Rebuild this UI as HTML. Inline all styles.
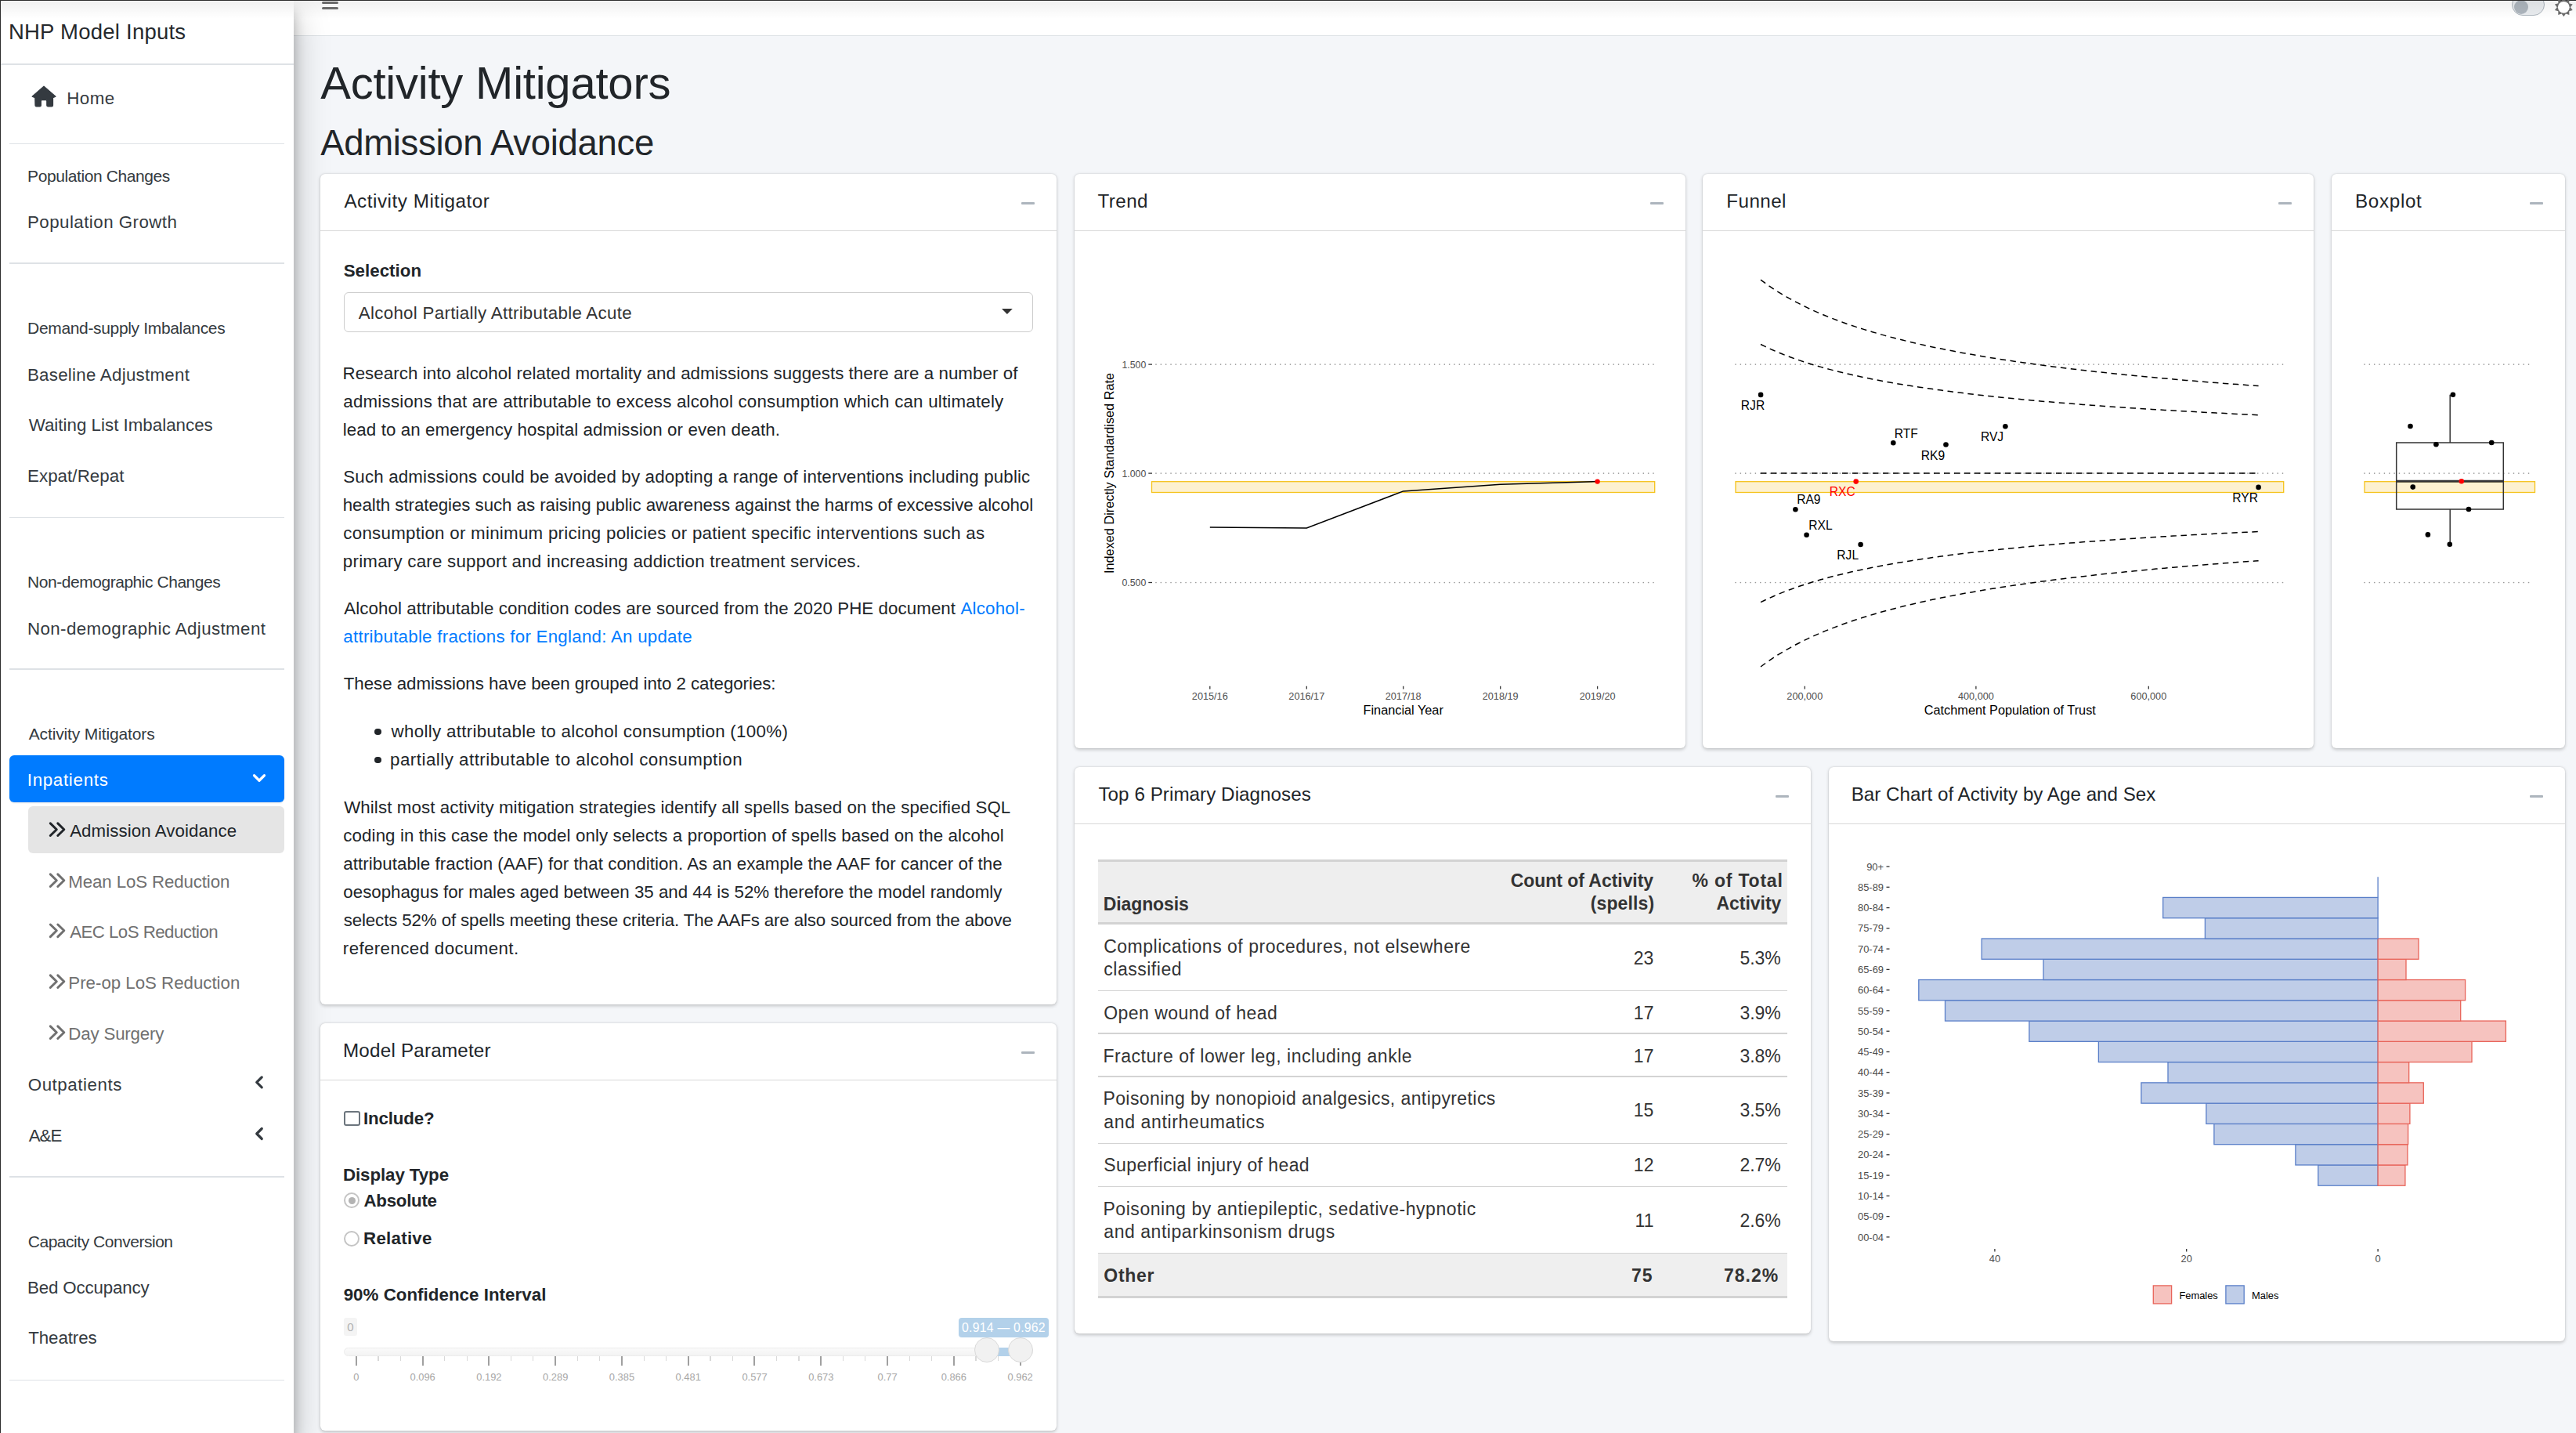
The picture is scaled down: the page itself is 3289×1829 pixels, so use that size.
<!DOCTYPE html>
<html><head><meta charset="utf-8"><title>NHP Model Inputs</title>
<style>
html,body{margin:0;padding:0;}
body{width:3289px;height:1829px;overflow:hidden;background:#f4f6f9;font-family:"Liberation Sans", Arial, sans-serif;position:relative;}
.a{position:absolute;}
.t{position:absolute;white-space:pre;}
svg.ov{position:absolute;left:0;top:0;overflow:visible;}
svg text{font-family:"Liberation Sans", Arial, sans-serif;}
</style></head><body>
<div class="a" style="left:375.00px;top:0.00px;width:2914.00px;height:45.00px;background:#fff;"></div>
<div class="a" style="left:375.00px;top:45.00px;width:2914.00px;height:1.00px;background:#dee2e6;"></div>
<div class="a" style="left:411.00px;top:2.00px;width:21.00px;height:3.00px;background:#6e6e6e;border-radius:1.5px;"></div>
<div class="a" style="left:411.00px;top:9.00px;width:21.00px;height:3.00px;background:#6e6e6e;border-radius:1.5px;"></div>
<div class="a" style="left:0.00px;top:0.00px;width:375.40px;height:1829.00px;background:#fff;box-shadow:0 21px 42px rgba(0,0,0,.25),0 15px 15px rgba(0,0,0,.22);"></div>
<div class="a" style="left:0.00px;top:81.00px;width:375.40px;height:1.50px;background:#dee2e6;"></div>
<div class="t" style="top:25px;left:10.94px;font-size:27.5px;line-height:31px;color:#25292d;letter-spacing:0.232px;">NHP Model Inputs</div>
<svg class="a" style="left:0;top:0" width="120" height="150"><path d="M56 110.1 L41.1 123.2 L44.8 124.6 L45 134.5 Q45 136 46.5 136 L51 136 Q52.3 136 52.3 134.5 L52.3 129 Q52.3 127.6 53.7 127.6 L58.4 127.6 Q59.8 127.6 59.8 129 L59.8 134.5 Q59.8 136 61.3 136 L66 136 Q67.5 136 67.5 134.5 L67.5 124.6 L71 123.2 Z" fill="#343a40" stroke="#343a40" stroke-width="1.2" stroke-linejoin="round"/></svg>
<div class="t" style="top:113px;left:85.37px;font-size:22.3px;line-height:25px;color:#343a40;letter-spacing:0.411px;">Home</div>
<div class="a" style="left:12.00px;top:182.95px;width:351.00px;height:1.50px;background:#dee2e6;"></div>
<div class="t" style="top:213px;left:35.08px;font-size:21.0px;line-height:23px;color:#343a40;letter-spacing:-0.404px;">Population Changes</div>
<div class="t" style="top:271px;left:34.97px;font-size:22.3px;line-height:25px;color:#343a40;letter-spacing:0.469px;">Population Growth</div>
<div class="a" style="left:12.00px;top:335.25px;width:351.00px;height:1.50px;background:#dee2e6;"></div>
<div class="t" style="top:407px;left:35.08px;font-size:21.0px;line-height:23px;color:#343a40;letter-spacing:-0.336px;">Demand-supply Imbalances</div>
<div class="t" style="top:466px;left:34.97px;font-size:22.3px;line-height:25px;color:#343a40;letter-spacing:0.268px;">Baseline Adjustment</div>
<div class="t" style="top:530px;left:36.70px;font-size:22.3px;line-height:25px;color:#343a40;letter-spacing:0.020px;">Waiting List Imbalances</div>
<div class="t" style="top:595px;left:34.97px;font-size:22.3px;line-height:25px;color:#343a40;letter-spacing:0.076px;">Expat/Repat</div>
<div class="a" style="left:12.00px;top:659.55px;width:351.00px;height:1.50px;background:#dee2e6;"></div>
<div class="t" style="top:731px;left:35.08px;font-size:21.0px;line-height:23px;color:#343a40;letter-spacing:-0.461px;">Non-demographic Changes</div>
<div class="t" style="top:790px;left:34.97px;font-size:22.3px;line-height:25px;color:#343a40;letter-spacing:0.408px;">Non-demographic Adjustment</div>
<div class="a" style="left:12.00px;top:853.45px;width:351.00px;height:1.50px;background:#dee2e6;"></div>
<div class="t" style="top:925px;left:36.76px;font-size:21.0px;line-height:23px;color:#343a40;letter-spacing:-0.137px;">Activity Mitigators</div>
<div class="a" style="left:12.10px;top:963.80px;width:350.60px;height:59.90px;background:#007bff;border-radius:6px;box-shadow:0 1px 2px rgba(0,0,0,.10);"></div>
<div class="t" style="top:983px;left:34.74px;font-size:22.3px;line-height:25px;color:#fff;letter-spacing:0.707px;">Inpatients</div>
<div class="a" style="left:36.40px;top:1029.00px;width:326.30px;height:59.60px;background:#e5e5e5;border-radius:6px;"></div>
<div class="t" style="top:1048px;left:89.16px;font-size:22.3px;line-height:25px;color:#212529;letter-spacing:0.081px;">Admission Avoidance</div>
<div class="t" style="top:1113px;left:87.37px;font-size:22.3px;line-height:25px;color:#707070;letter-spacing:-0.135px;">Mean LoS Reduction</div>
<div class="t" style="top:1177px;left:89.16px;font-size:22.3px;line-height:25px;color:#707070;letter-spacing:-0.547px;">AEC LoS Reduction</div>
<div class="t" style="top:1242px;left:87.37px;font-size:22.3px;line-height:25px;color:#707070;letter-spacing:-0.024px;">Pre-op LoS Reduction</div>
<div class="t" style="top:1307px;left:87.37px;font-size:22.3px;line-height:25px;color:#707070;letter-spacing:-0.187px;">Day Surgery</div>
<div class="t" style="top:1372px;left:35.74px;font-size:22.3px;line-height:25px;color:#343a40;letter-spacing:0.561px;">Outpatients</div>
<div class="t" style="top:1437px;left:36.76px;font-size:22.3px;line-height:25px;color:#343a40;letter-spacing:-1.000px;">A&amp;E</div>
<div class="a" style="left:12.00px;top:1501.25px;width:351.00px;height:1.50px;background:#dee2e6;"></div>
<div class="t" style="top:1573px;left:35.73px;font-size:21.0px;line-height:23px;color:#343a40;letter-spacing:-0.468px;">Capacity Conversion</div>
<div class="t" style="top:1631px;left:34.97px;font-size:22.3px;line-height:25px;color:#343a40;letter-spacing:-0.147px;">Bed Occupancy</div>
<div class="t" style="top:1695px;left:36.30px;font-size:22.3px;line-height:25px;color:#343a40;letter-spacing:-0.100px;">Theatres</div>
<div class="a" style="left:12.00px;top:1760.85px;width:351.00px;height:1.50px;background:#dee2e6;"></div>
<div class="t" style="top:74px;left:409.19px;font-size:58.0px;line-height:64px;color:#212529;letter-spacing:-0.217px;">Activity Mitigators</div>
<div class="t" style="top:157px;left:409.21px;font-size:45.5px;line-height:51px;color:#212529;letter-spacing:-0.315px;">Admission Avoidance</div>
<div class="a" style="left:409.00px;top:221.60px;width:940.20px;height:1060.30px;background:#fff;border-radius:6px;box-shadow:0 0 1.5px rgba(0,0,0,.14),0 1.5px 4.5px rgba(0,0,0,.2);"></div>
<div class="a" style="left:409.00px;top:294.00px;width:940.20px;height:1.00px;background:#d9d9d9;"></div>
<div class="t" style="top:243px;left:439.45px;font-size:24.2px;line-height:27px;color:#212529;letter-spacing:0.552px;">Activity Mitigator</div>
<div class="a" style="left:1303.60px;top:258.20px;width:17.00px;height:2.80px;background:#adb5bd;border-radius:1px;"></div>
<div class="a" style="left:1371.50px;top:221.60px;width:780.70px;height:733.30px;background:#fff;border-radius:6px;box-shadow:0 0 1.5px rgba(0,0,0,.14),0 1.5px 4.5px rgba(0,0,0,.2);"></div>
<div class="a" style="left:1371.50px;top:294.00px;width:780.70px;height:1.00px;background:#d9d9d9;"></div>
<div class="t" style="top:243px;left:1401.46px;font-size:24.2px;line-height:27px;color:#212529;letter-spacing:0.445px;">Trend</div>
<div class="a" style="left:2106.60px;top:258.20px;width:17.00px;height:2.80px;background:#adb5bd;border-radius:1px;"></div>
<div class="a" style="left:2173.80px;top:221.60px;width:780.30px;height:733.30px;background:#fff;border-radius:6px;box-shadow:0 0 1.5px rgba(0,0,0,.14),0 1.5px 4.5px rgba(0,0,0,.2);"></div>
<div class="a" style="left:2173.80px;top:294.00px;width:780.30px;height:1.00px;background:#d9d9d9;"></div>
<div class="t" style="top:243px;left:2204.31px;font-size:24.2px;line-height:27px;color:#212529;letter-spacing:0.441px;">Funnel</div>
<div class="a" style="left:2908.50px;top:258.20px;width:17.00px;height:2.80px;background:#adb5bd;border-radius:1px;"></div>
<div class="a" style="left:2976.90px;top:221.60px;width:298.30px;height:733.30px;background:#fff;border-radius:6px;box-shadow:0 0 1.5px rgba(0,0,0,.14),0 1.5px 4.5px rgba(0,0,0,.2);"></div>
<div class="a" style="left:2976.90px;top:294.00px;width:298.30px;height:1.00px;background:#d9d9d9;"></div>
<div class="t" style="top:243px;left:3007.01px;font-size:24.2px;line-height:27px;color:#212529;letter-spacing:0.690px;">Boxplot</div>
<div class="a" style="left:3229.60px;top:258.20px;width:17.00px;height:2.80px;background:#adb5bd;border-radius:1px;"></div>
<div class="a" style="left:409.00px;top:1305.80px;width:940.20px;height:520.40px;background:#fff;border-radius:6px;box-shadow:0 0 1.5px rgba(0,0,0,.14),0 1.5px 4.5px rgba(0,0,0,.2);"></div>
<div class="a" style="left:409.00px;top:1378.00px;width:940.20px;height:1.00px;background:#d9d9d9;"></div>
<div class="t" style="top:1327px;left:438.01px;font-size:24.2px;line-height:27px;color:#212529;letter-spacing:0.219px;">Model Parameter</div>
<div class="a" style="left:1303.60px;top:1342.40px;width:17.00px;height:2.80px;background:#adb5bd;border-radius:1px;"></div>
<div class="a" style="left:1371.50px;top:978.80px;width:940.70px;height:723.60px;background:#fff;border-radius:6px;box-shadow:0 0 1.5px rgba(0,0,0,.14),0 1.5px 4.5px rgba(0,0,0,.2);"></div>
<div class="a" style="left:1371.50px;top:1051.00px;width:940.70px;height:1.00px;background:#d9d9d9;"></div>
<div class="t" style="top:1000px;left:1402.46px;font-size:24.2px;line-height:27px;color:#212529;letter-spacing:0.053px;">Top 6 Primary Diagnoses</div>
<div class="a" style="left:2266.60px;top:1015.40px;width:17.00px;height:2.80px;background:#adb5bd;border-radius:1px;"></div>
<div class="a" style="left:2334.70px;top:978.80px;width:940.50px;height:733.40px;background:#fff;border-radius:6px;box-shadow:0 0 1.5px rgba(0,0,0,.14),0 1.5px 4.5px rgba(0,0,0,.2);"></div>
<div class="a" style="left:2334.70px;top:1051.00px;width:940.50px;height:1.00px;background:#d9d9d9;"></div>
<div class="t" style="top:1000px;left:2363.71px;font-size:24.2px;line-height:27px;color:#212529;letter-spacing:0.005px;">Bar Chart of Activity by Age and Sex</div>
<div class="a" style="left:3229.60px;top:1015.40px;width:17.00px;height:2.80px;background:#adb5bd;border-radius:1px;"></div>
<div class="t" style="top:333px;left:438.66px;font-size:22.3px;line-height:25px;color:#212529;font-weight:700;letter-spacing:0.035px;">Selection</div>
<div class="a" style="left:438.60px;top:372.70px;width:880.80px;height:51.50px;background:#fff;border:1.5px solid #cccccc;border-radius:6px;box-sizing:border-box;"></div>
<div class="t" style="top:387px;left:457.86px;font-size:22.3px;line-height:25px;color:#333;letter-spacing:0.295px;">Alcohol Partially Attributable Acute</div>
<div class="t" style="top:464px;left:437.47px;font-size:22.3px;line-height:25px;color:#212529;letter-spacing:0.065px;">Research into alcohol related mortality and admissions suggests there are a number of</div>
<div class="t" style="top:500px;left:438.35px;font-size:22.3px;line-height:25px;color:#212529;letter-spacing:0.213px;">admissions that are attributable to excess alcohol consumption which can ultimately</div>
<div class="t" style="top:536px;left:437.80px;font-size:22.3px;line-height:25px;color:#212529;letter-spacing:0.101px;">lead to an emergency hospital admission or even death.</div>
<div class="t" style="top:596px;left:438.29px;font-size:22.3px;line-height:25px;color:#212529;letter-spacing:0.168px;">Such admissions could be avoided by adopting a range of interventions including public</div>
<div class="t" style="top:632px;left:437.75px;font-size:22.3px;line-height:25px;color:#212529;letter-spacing:-0.054px;">health strategies such as raising public awareness against the harms of excessive alcohol</div>
<div class="t" style="top:668px;left:438.35px;font-size:22.3px;line-height:25px;color:#212529;letter-spacing:0.275px;">consumption or minimum pricing policies or patient specific interventions such as</div>
<div class="t" style="top:704px;left:437.86px;font-size:22.3px;line-height:25px;color:#212529;letter-spacing:0.241px;">primary care support and increasing addiction treatment services.</div>
<div class="t" style="top:860px;left:438.80px;font-size:22.3px;line-height:25px;color:#212529;letter-spacing:-0.044px;">These admissions have been grouped into 2 categories:</div>
<div class="t" style="top:1018px;left:439.20px;font-size:22.3px;line-height:25px;color:#212529;letter-spacing:0.095px;">Whilst most activity mitigation strategies identify all spells based on the specified SQL</div>
<div class="t" style="top:1054px;left:438.35px;font-size:22.3px;line-height:25px;color:#212529;letter-spacing:0.095px;">coding in this case the model only selects a proportion of spells based on the alcohol</div>
<div class="t" style="top:1090px;left:438.35px;font-size:22.3px;line-height:25px;color:#212529;letter-spacing:0.054px;">attributable fraction (AAF) for that condition. As an example the AAF for cancer of the</div>
<div class="t" style="top:1126px;left:438.36px;font-size:22.3px;line-height:25px;color:#212529;letter-spacing:-0.009px;">oesophagus for males aged between 35 and 44 is 52% therefore the model randomly</div>
<div class="t" style="top:1162px;left:438.68px;font-size:22.3px;line-height:25px;color:#212529;letter-spacing:-0.119px;">selects 52% of spells meeting these criteria. The AAFs are also sourced from the above</div>
<div class="t" style="top:1198px;left:437.82px;font-size:22.3px;line-height:25px;color:#212529;letter-spacing:0.388px;">referenced document.</div>
<div class="t" style="top:764px;left:439.26px;font-size:22.3px;line-height:25px;color:#212529;letter-spacing:0.083px;">Alcohol attributable condition codes are sourced from the 2020 PHE document</div>
<div class="t" style="top:764px;left:1226.46px;font-size:22.3px;line-height:25px;color:#007bff;letter-spacing:0.224px;">Alcohol-</div>
<div class="t" style="top:800px;left:438.35px;font-size:22.3px;line-height:25px;color:#007bff;letter-spacing:0.260px;">attributable fractions for England: An update</div>
<div class="a" style="left:478.25px;top:929.85px;width:8.30px;height:8.30px;background:#212529;border-radius:50%;"></div>
<div class="t" style="top:921px;left:499.53px;font-size:22.3px;line-height:25px;color:#212529;letter-spacing:0.324px;">wholly attributable to alcohol consumption (100%)</div>
<div class="a" style="left:478.25px;top:965.85px;width:8.30px;height:8.30px;background:#212529;border-radius:50%;"></div>
<div class="t" style="top:957px;left:498.06px;font-size:22.3px;line-height:25px;color:#212529;letter-spacing:0.498px;">partially attributable to alcohol consumption</div>
<div class="a" style="left:439.40px;top:1417.70px;width:20.30px;height:19.70px;border:2.2px solid #6c757d;border-radius:3px;box-sizing:border-box;background:#fff;"></div>
<div class="t" style="top:1415px;left:464.01px;font-size:22.3px;line-height:25px;color:#212529;font-weight:700;letter-spacing:-0.144px;">Include?</div>
<div class="t" style="top:1487px;left:437.91px;font-size:22.3px;line-height:25px;color:#212529;font-weight:700;letter-spacing:-0.069px;">Display Type</div>
<div class="a" style="left:439.40px;top:1522.40px;width:20.00px;height:20.00px;border:2px solid #c4c4c4;border-radius:50%;box-sizing:border-box;background:#fff;"></div>
<div class="a" style="left:444.90px;top:1527.90px;width:9.00px;height:9.00px;background:#b3b3b3;border-radius:50%;"></div>
<div class="t" style="top:1520px;left:464.54px;font-size:22.3px;line-height:25px;color:#212529;font-weight:700;letter-spacing:-0.283px;">Absolute</div>
<div class="a" style="left:439.40px;top:1570.50px;width:20.00px;height:20.00px;border:2px solid #c4c4c4;border-radius:50%;box-sizing:border-box;background:#fff;"></div>
<div class="t" style="top:1568px;left:464.01px;font-size:22.3px;line-height:25px;color:#212529;font-weight:700;letter-spacing:0.274px;">Relative</div>
<div class="t" style="top:1640px;left:438.63px;font-size:22.3px;line-height:25px;color:#212529;font-weight:700;letter-spacing:0.045px;">90% Confidence Interval</div>
<div class="a" style="left:439.30px;top:1682.20px;width:16.30px;height:22.40px;background:#f4f4f4;border-radius:3px;"></div>
<div class="t" style="top:1685px;left:443.33px;font-size:15px;line-height:17px;color:#b0b0b0;">0</div>
<div class="a" style="left:439.30px;top:1719.50px;width:879.30px;height:11.10px;background:linear-gradient(#fafafa,#f3f3f3);border:1px solid #ececec;border-radius:6px;box-sizing:border-box;"></div>
<div class="a" style="left:1270.00px;top:1719.50px;width:25.00px;height:11.20px;background:#b3d1ea;"></div>
<div class="a" style="left:453.80px;top:1730.60px;width:2.00px;height:12.20px;background:#a0a0a0;"></div>
<div class="t" style="top:1750px;left:451.21px;font-size:12.9px;line-height:15px;color:#a6a6a6;">0</div>
<div class="a" style="left:482.46px;top:1730.60px;width:1.20px;height:6.40px;background:#d9d9d9;"></div>
<div class="a" style="left:510.72px;top:1730.60px;width:1.20px;height:6.40px;background:#d9d9d9;"></div>
<div class="a" style="left:538.58px;top:1730.60px;width:2.00px;height:12.20px;background:#a0a0a0;"></div>
<div class="t" style="top:1750px;left:523.47px;font-size:12.9px;line-height:15px;color:#a6a6a6;">0.096</div>
<div class="a" style="left:567.24px;top:1730.60px;width:1.20px;height:6.40px;background:#d9d9d9;"></div>
<div class="a" style="left:595.50px;top:1730.60px;width:1.20px;height:6.40px;background:#d9d9d9;"></div>
<div class="a" style="left:623.36px;top:1730.60px;width:2.00px;height:12.20px;background:#a0a0a0;"></div>
<div class="t" style="top:1750px;left:608.29px;font-size:12.9px;line-height:15px;color:#a6a6a6;">0.192</div>
<div class="a" style="left:652.02px;top:1730.60px;width:1.20px;height:6.40px;background:#d9d9d9;"></div>
<div class="a" style="left:680.28px;top:1730.60px;width:1.20px;height:6.40px;background:#d9d9d9;"></div>
<div class="a" style="left:708.14px;top:1730.60px;width:2.00px;height:12.20px;background:#a0a0a0;"></div>
<div class="t" style="top:1750px;left:693.05px;font-size:12.9px;line-height:15px;color:#a6a6a6;">0.289</div>
<div class="a" style="left:736.80px;top:1730.60px;width:1.20px;height:6.40px;background:#d9d9d9;"></div>
<div class="a" style="left:765.06px;top:1730.60px;width:1.20px;height:6.40px;background:#d9d9d9;"></div>
<div class="a" style="left:792.92px;top:1730.60px;width:2.00px;height:12.20px;background:#a0a0a0;"></div>
<div class="t" style="top:1750px;left:777.80px;font-size:12.9px;line-height:15px;color:#a6a6a6;">0.385</div>
<div class="a" style="left:821.58px;top:1730.60px;width:1.20px;height:6.40px;background:#d9d9d9;"></div>
<div class="a" style="left:849.84px;top:1730.60px;width:1.20px;height:6.40px;background:#d9d9d9;"></div>
<div class="a" style="left:877.70px;top:1730.60px;width:2.00px;height:12.20px;background:#a0a0a0;"></div>
<div class="t" style="top:1750px;left:862.62px;font-size:12.9px;line-height:15px;color:#a6a6a6;">0.481</div>
<div class="a" style="left:906.36px;top:1730.60px;width:1.20px;height:6.40px;background:#d9d9d9;"></div>
<div class="a" style="left:934.62px;top:1730.60px;width:1.20px;height:6.40px;background:#d9d9d9;"></div>
<div class="a" style="left:962.48px;top:1730.60px;width:2.00px;height:12.20px;background:#a0a0a0;"></div>
<div class="t" style="top:1750px;left:947.41px;font-size:12.9px;line-height:15px;color:#a6a6a6;">0.577</div>
<div class="a" style="left:991.14px;top:1730.60px;width:1.20px;height:6.40px;background:#d9d9d9;"></div>
<div class="a" style="left:1019.40px;top:1730.60px;width:1.20px;height:6.40px;background:#d9d9d9;"></div>
<div class="a" style="left:1047.26px;top:1730.60px;width:2.00px;height:12.20px;background:#a0a0a0;"></div>
<div class="t" style="top:1750px;left:1032.15px;font-size:12.9px;line-height:15px;color:#a6a6a6;">0.673</div>
<div class="a" style="left:1075.92px;top:1730.60px;width:1.20px;height:6.40px;background:#d9d9d9;"></div>
<div class="a" style="left:1104.18px;top:1730.60px;width:1.20px;height:6.40px;background:#d9d9d9;"></div>
<div class="a" style="left:1132.04px;top:1730.60px;width:2.00px;height:12.20px;background:#a0a0a0;"></div>
<div class="t" style="top:1750px;left:1120.56px;font-size:12.9px;line-height:15px;color:#a6a6a6;">0.77</div>
<div class="a" style="left:1160.70px;top:1730.60px;width:1.20px;height:6.40px;background:#d9d9d9;"></div>
<div class="a" style="left:1188.96px;top:1730.60px;width:1.20px;height:6.40px;background:#d9d9d9;"></div>
<div class="a" style="left:1216.82px;top:1730.60px;width:2.00px;height:12.20px;background:#a0a0a0;"></div>
<div class="t" style="top:1750px;left:1201.71px;font-size:12.9px;line-height:15px;color:#a6a6a6;">0.866</div>
<div class="a" style="left:1245.48px;top:1730.60px;width:1.20px;height:6.40px;background:#d9d9d9;"></div>
<div class="a" style="left:1273.74px;top:1730.60px;width:1.20px;height:6.40px;background:#d9d9d9;"></div>
<div class="a" style="left:1301.60px;top:1730.60px;width:2.00px;height:12.20px;background:#a0a0a0;"></div>
<div class="t" style="top:1750px;left:1286.53px;font-size:12.9px;line-height:15px;color:#a6a6a6;">0.962</div>
<div class="a" style="left:1244.30px;top:1707.40px;width:32.00px;height:32.00px;background:#f1f1f1;border:1.3px solid #dadada;border-radius:50%;box-sizing:border-box;"></div>
<div class="a" style="left:1286.60px;top:1707.40px;width:32.00px;height:32.00px;background:#f1f1f1;border:1.3px solid #dadada;border-radius:50%;box-sizing:border-box;"></div>
<div class="a" style="left:1224.20px;top:1682.10px;width:114.50px;height:24.60px;background:#b3d1ea;border-radius:4px;"></div>
<div class="t" style="top:1686px;left:1227.98px;font-size:15.8px;line-height:17px;color:#fff;letter-spacing:0.254px;">0.914 — 0.962</div>
<div class="a" style="left:1402.20px;top:1097.10px;width:879.60px;height:2.90px;background:#d3d3d3;"></div>
<div class="a" style="left:1402.20px;top:1100.00px;width:879.60px;height:76.90px;background:#eeeeee;"></div>
<div class="a" style="left:1402.20px;top:1176.90px;width:879.60px;height:3.00px;background:#d3d3d3;"></div>
<div class="t" style="top:1141px;left:1408.76px;font-size:23.0px;line-height:26px;color:#333333;font-weight:700;letter-spacing:-0.104px;">Diagnosis</div>
<div class="t" style="top:1111px;left:1928.76px;font-size:23.0px;line-height:26px;color:#333333;font-weight:700;letter-spacing:-0.048px;">Count of Activity</div>
<div class="t" style="top:1140px;left:2030.75px;font-size:23.0px;line-height:26px;color:#333333;font-weight:700;letter-spacing:0.124px;">(spells)</div>
<div class="t" style="top:1111px;left:2160.53px;font-size:23.0px;line-height:26px;color:#333333;font-weight:700;letter-spacing:0.792px;">% of Total</div>
<div class="t" style="top:1140px;left:2191.53px;font-size:23.0px;line-height:26px;color:#333333;font-weight:700;letter-spacing:-0.041px;">Activity</div>
<div class="t" style="top:1195px;left:1409.13px;font-size:23.0px;line-height:26px;color:#333333;letter-spacing:0.508px;">Complications of procedures, not elsewhere</div>
<div class="t" style="top:1224px;left:1409.32px;font-size:23.0px;line-height:26px;color:#333333;letter-spacing:0.507px;">classified</div>
<div class="t" style="top:1210px;left:2085.73px;font-size:23.0px;line-height:26px;color:#333333;">23</div>
<div class="t" style="top:1210px;left:2221.40px;font-size:23.0px;line-height:26px;color:#333333;">5.3%</div>
<div class="a" style="left:1402.20px;top:1263.95px;width:879.60px;height:1.50px;background:#d3d3d3;"></div>
<div class="t" style="top:1280px;left:1409.21px;font-size:23.0px;line-height:26px;color:#333333;letter-spacing:0.471px;">Open wound of head</div>
<div class="t" style="top:1280px;left:2085.87px;font-size:23.0px;line-height:26px;color:#333333;">17</div>
<div class="t" style="top:1280px;left:2221.40px;font-size:23.0px;line-height:26px;color:#333333;">3.9%</div>
<div class="a" style="left:1402.20px;top:1318.45px;width:879.60px;height:1.50px;background:#d3d3d3;"></div>
<div class="t" style="top:1335px;left:1408.41px;font-size:23.0px;line-height:26px;color:#333333;letter-spacing:0.530px;">Fracture of lower leg, including ankle</div>
<div class="t" style="top:1335px;left:2085.87px;font-size:23.0px;line-height:26px;color:#333333;">17</div>
<div class="t" style="top:1335px;left:2221.40px;font-size:23.0px;line-height:26px;color:#333333;">3.8%</div>
<div class="a" style="left:1402.20px;top:1373.25px;width:879.60px;height:1.50px;background:#d3d3d3;"></div>
<div class="t" style="top:1389px;left:1408.41px;font-size:23.0px;line-height:26px;color:#333333;letter-spacing:0.410px;">Poisoning by nonopioid analgesics, antipyretics</div>
<div class="t" style="top:1419px;left:1409.32px;font-size:23.0px;line-height:26px;color:#333333;letter-spacing:0.634px;">and antirheumatics</div>
<div class="t" style="top:1404px;left:2085.68px;font-size:23.0px;line-height:26px;color:#333333;">15</div>
<div class="t" style="top:1404px;left:2221.40px;font-size:23.0px;line-height:26px;color:#333333;">3.5%</div>
<div class="a" style="left:1402.20px;top:1458.75px;width:879.60px;height:1.50px;background:#d3d3d3;"></div>
<div class="t" style="top:1474px;left:1409.26px;font-size:23.0px;line-height:26px;color:#333333;letter-spacing:0.422px;">Superficial injury of head</div>
<div class="t" style="top:1474px;left:2085.87px;font-size:23.0px;line-height:26px;color:#333333;">12</div>
<div class="t" style="top:1474px;left:2221.40px;font-size:23.0px;line-height:26px;color:#333333;">2.7%</div>
<div class="a" style="left:1402.20px;top:1513.85px;width:879.60px;height:1.50px;background:#d3d3d3;"></div>
<div class="t" style="top:1530px;left:1408.41px;font-size:23.0px;line-height:26px;color:#333333;letter-spacing:0.558px;">Poisoning by antiepileptic, sedative-hypnotic</div>
<div class="t" style="top:1559px;left:1409.32px;font-size:23.0px;line-height:26px;color:#333333;letter-spacing:0.545px;">and antiparkinsonism drugs</div>
<div class="t" style="top:1545px;left:2087.55px;font-size:23.0px;line-height:26px;color:#333333;">11</div>
<div class="t" style="top:1545px;left:2221.40px;font-size:23.0px;line-height:26px;color:#333333;">2.6%</div>
<div class="a" style="left:1402.20px;top:1598.55px;width:879.60px;height:1.50px;background:#d3d3d3;"></div>
<div class="a" style="left:1402.20px;top:1600.00px;width:879.60px;height:54.00px;background:#efefef;"></div>
<div class="a" style="left:1402.20px;top:1654.00px;width:879.60px;height:3.00px;background:#d3d3d3;"></div>
<div class="t" style="top:1615px;left:1409.36px;font-size:23.0px;line-height:26px;color:#333333;font-weight:700;letter-spacing:0.687px;">Other</div>
<div class="t" style="top:1615px;left:2082.91px;font-size:23.0px;line-height:26px;color:#333333;font-weight:700;letter-spacing:1.000px;">75</div>
<div class="t" style="top:1615px;left:2200.91px;font-size:23.0px;line-height:26px;color:#333333;font-weight:700;letter-spacing:1.000px;">78.2%</div>
<div class="a" style="left:3207.30px;top:-8.00px;width:41.50px;height:28.40px;background:#e9ecef;border:1.5px solid #adb5bd;border-radius:14px;box-sizing:border-box;"></div>
<div class="a" style="left:3209.60px;top:0.00px;width:18.00px;height:18.00px;background:#adb5bd;border-radius:50%;"></div>
<div class="a" style="left:0.00px;top:0.00px;width:3289.00px;height:24.00px;background:linear-gradient(rgba(0,0,0,.06),rgba(0,0,0,0));"></div>
<div class="a" style="left:0.00px;top:0.00px;width:3289.00px;height:1.20px;background:#2e2e2e;"></div>
<div class="a" style="left:0.00px;top:0.00px;width:1.20px;height:1829.00px;background:#2e2e2e;"></div>
<svg class="ov" width="3289" height="1829" viewBox="0 0 3289 1829">
<path d="M324.5 989.75 L331 996.25 L337.5 989.75" fill="none" stroke="#fff" stroke-width="3.2" stroke-linecap="round" stroke-linejoin="round"/>
<path d="M64.3 1050.9 L72.3 1058.7 L64.3 1066.5" fill="none" stroke="#212529" stroke-width="3" stroke-linecap="round" stroke-linejoin="round"/>
<path d="M73.8 1050.9 L81.8 1058.7 L73.8 1066.5" fill="none" stroke="#212529" stroke-width="3" stroke-linecap="round" stroke-linejoin="round"/>
<path d="M64.3 1115.9 L72.3 1123.7 L64.3 1131.5" fill="none" stroke="#707070" stroke-width="3" stroke-linecap="round" stroke-linejoin="round"/>
<path d="M73.8 1115.9 L81.8 1123.7 L73.8 1131.5" fill="none" stroke="#707070" stroke-width="3" stroke-linecap="round" stroke-linejoin="round"/>
<path d="M64.3 1180.0 L72.3 1187.8 L64.3 1195.6" fill="none" stroke="#707070" stroke-width="3" stroke-linecap="round" stroke-linejoin="round"/>
<path d="M73.8 1180.0 L81.8 1187.8 L73.8 1195.6" fill="none" stroke="#707070" stroke-width="3" stroke-linecap="round" stroke-linejoin="round"/>
<path d="M64.3 1244.9 L72.3 1252.7 L64.3 1260.5" fill="none" stroke="#707070" stroke-width="3" stroke-linecap="round" stroke-linejoin="round"/>
<path d="M73.8 1244.9 L81.8 1252.7 L73.8 1260.5" fill="none" stroke="#707070" stroke-width="3" stroke-linecap="round" stroke-linejoin="round"/>
<path d="M64.3 1309.9 L72.3 1317.7 L64.3 1325.5" fill="none" stroke="#707070" stroke-width="3" stroke-linecap="round" stroke-linejoin="round"/>
<path d="M73.8 1309.9 L81.8 1317.7 L73.8 1325.5" fill="none" stroke="#707070" stroke-width="3" stroke-linecap="round" stroke-linejoin="round"/>
<path d="M334.25 1374.9 L327.75 1381.4 L334.25 1387.9" fill="none" stroke="#343a40" stroke-width="3.2" stroke-linecap="round" stroke-linejoin="round"/>
<path d="M334.25 1440.5 L327.75 1447.0 L334.25 1453.5" fill="none" stroke="#343a40" stroke-width="3.2" stroke-linecap="round" stroke-linejoin="round"/>
<path d="M1279 393.9 L1292.8 393.9 L1285.9 400.9 Z" fill="#333"/>
<line x1="1476" y1="465.1" x2="2112.7" y2="465.1" stroke="#9a9a9a" stroke-width="1.7" stroke-linecap="round" stroke-dasharray="0 6.35" />
<line x1="1466.3" y1="465.1" x2="1471" y2="465.1" stroke="#333" stroke-width="1.3"/>
<text x="1463.30" y="469.50" font-size="12.3" fill="#4d4d4d" text-anchor="end" >1.500</text>
<line x1="1476" y1="604.1" x2="2112.7" y2="604.1" stroke="#9a9a9a" stroke-width="1.7" stroke-linecap="round" stroke-dasharray="0 6.35" />
<line x1="1466.3" y1="604.1" x2="1471" y2="604.1" stroke="#333" stroke-width="1.3"/>
<text x="1463.30" y="608.50" font-size="12.3" fill="#4d4d4d" text-anchor="end" >1.000</text>
<line x1="1476" y1="743.5" x2="2112.7" y2="743.5" stroke="#9a9a9a" stroke-width="1.7" stroke-linecap="round" stroke-dasharray="0 6.35" />
<line x1="1466.3" y1="743.5" x2="1471" y2="743.5" stroke="#333" stroke-width="1.3"/>
<text x="1463.30" y="747.90" font-size="12.3" fill="#4d4d4d" text-anchor="end" >0.500</text>
<rect x="1470.5" y="614.7" width="642.1999999999998" height="13.8" fill="#fdf1cf" stroke="#f5c31c" stroke-width="1.3"/>
<polyline points="1544.8,673.1 1668.3,674.0 1791.7,626.9 1915.7,618.2 2039.6,614.6" fill="none" stroke="#000" stroke-width="1.5"/>
<circle cx="2039.6" cy="614.6" r="3.2" fill="#ff0000"/>
<line x1="1544.8" y1="875.8" x2="1544.8" y2="879.4" stroke="#333" stroke-width="1.3"/>
<text x="1544.80" y="893.20" font-size="12.7" fill="#4d4d4d" text-anchor="middle" >2015/16</text>
<line x1="1668.3" y1="875.8" x2="1668.3" y2="879.4" stroke="#333" stroke-width="1.3"/>
<text x="1668.30" y="893.20" font-size="12.7" fill="#4d4d4d" text-anchor="middle" >2016/17</text>
<line x1="1791.7" y1="875.8" x2="1791.7" y2="879.4" stroke="#333" stroke-width="1.3"/>
<text x="1791.70" y="893.20" font-size="12.7" fill="#4d4d4d" text-anchor="middle" >2017/18</text>
<line x1="1915.7" y1="875.8" x2="1915.7" y2="879.4" stroke="#333" stroke-width="1.3"/>
<text x="1915.70" y="893.20" font-size="12.7" fill="#4d4d4d" text-anchor="middle" >2018/19</text>
<line x1="2039.6" y1="875.8" x2="2039.6" y2="879.4" stroke="#333" stroke-width="1.3"/>
<text x="2039.60" y="893.20" font-size="12.7" fill="#4d4d4d" text-anchor="middle" >2019/20</text>
<text x="1791.70" y="912.10" font-size="16.3" fill="#000" text-anchor="middle" >Financial Year</text>
<text x="0" y="0" font-size="16.3" fill="#000" text-anchor="middle" transform="translate(1422.2 604) rotate(-90)">Indexed Directly Standardised Rate</text>
<line x1="2216" y1="465.1" x2="2915.7" y2="465.1" stroke="#9a9a9a" stroke-width="1.7" stroke-linecap="round" stroke-dasharray="0 6.35" />
<line x1="2216" y1="604.1" x2="2915.7" y2="604.1" stroke="#9a9a9a" stroke-width="1.7" stroke-linecap="round" stroke-dasharray="0 6.35" />
<line x1="2216" y1="743.5" x2="2915.7" y2="743.5" stroke="#9a9a9a" stroke-width="1.7" stroke-linecap="round" stroke-dasharray="0 6.35" />
<rect x="2216" y="614.7" width="699.6999999999998" height="13.8" fill="#fdf1cf" stroke="#f5c31c" stroke-width="1.3"/>
<polyline points="2248.0,439.5 2253.5,442.2 2259.0,444.8 2264.5,447.2 2269.9,449.6 2275.4,451.8 2280.9,454.0 2286.4,456.0 2291.9,458.0 2297.4,459.9 2302.9,461.7 2308.4,463.5 2313.8,465.2 2319.3,466.8 2324.8,468.4 2330.3,469.9 2335.8,471.4 2341.3,472.8 2346.8,474.2 2352.3,475.5 2357.7,476.8 2363.2,478.1 2368.7,479.3 2374.2,480.5 2379.7,481.7 2385.2,482.8 2390.7,483.9 2396.2,484.9 2401.6,486.0 2407.1,487.0 2412.6,488.0 2418.1,488.9 2423.6,489.9 2429.1,490.8 2434.6,491.7 2440.1,492.5 2445.5,493.4 2451.0,494.2 2456.5,495.0 2462.0,495.8 2467.5,496.6 2473.0,497.4 2478.5,498.1 2484.0,498.9 2489.4,499.6 2494.9,500.3 2500.4,501.0 2505.9,501.6 2511.4,502.3 2516.9,502.9 2522.4,503.6 2527.9,504.2 2533.3,504.8 2538.8,505.4 2544.3,506.0 2549.8,506.6 2555.3,507.2 2560.8,507.7 2566.3,508.3 2571.8,508.8 2577.2,509.3 2582.7,509.9 2588.2,510.4 2593.7,510.9 2599.2,511.4 2604.7,511.9 2610.2,512.4 2615.7,512.8 2621.1,513.3 2626.6,513.8 2632.1,514.2 2637.6,514.7 2643.1,515.1 2648.6,515.5 2654.1,516.0 2659.6,516.4 2665.0,516.8 2670.5,517.2 2676.0,517.6 2681.5,518.0 2687.0,518.4 2692.5,518.8 2698.0,519.2 2703.5,519.6 2708.9,519.9 2714.4,520.3 2719.9,520.7 2725.4,521.0 2730.9,521.4 2736.4,521.7 2741.9,522.1 2747.4,522.4 2752.8,522.7 2758.3,523.1 2763.8,523.4 2769.3,523.7 2774.8,524.1 2780.3,524.4 2785.8,524.7 2791.3,525.0 2796.7,525.3 2802.2,525.6 2807.7,525.9 2813.2,526.2 2818.7,526.5 2824.2,526.8 2829.7,527.1 2835.2,527.3 2840.6,527.6 2846.1,527.9 2851.6,528.2 2857.1,528.4 2862.6,528.7 2868.1,529.0 2873.6,529.2 2879.1,529.5 2883.6,529.7" fill="none" stroke="#000" stroke-width="1.5" stroke-dasharray="7.5 5.5"/>
<polyline points="2248.0,768.7 2253.5,766.0 2259.0,763.4 2264.5,761.0 2269.9,758.6 2275.4,756.4 2280.9,754.2 2286.4,752.2 2291.9,750.2 2297.4,748.3 2302.9,746.5 2308.4,744.7 2313.8,743.0 2319.3,741.4 2324.8,739.8 2330.3,738.3 2335.8,736.8 2341.3,735.4 2346.8,734.0 2352.3,732.7 2357.7,731.4 2363.2,730.1 2368.7,728.9 2374.2,727.7 2379.7,726.5 2385.2,725.4 2390.7,724.3 2396.2,723.3 2401.6,722.2 2407.1,721.2 2412.6,720.2 2418.1,719.3 2423.6,718.3 2429.1,717.4 2434.6,716.5 2440.1,715.7 2445.5,714.8 2451.0,714.0 2456.5,713.2 2462.0,712.4 2467.5,711.6 2473.0,710.8 2478.5,710.1 2484.0,709.3 2489.4,708.6 2494.9,707.9 2500.4,707.2 2505.9,706.6 2511.4,705.9 2516.9,705.3 2522.4,704.6 2527.9,704.0 2533.3,703.4 2538.8,702.8 2544.3,702.2 2549.8,701.6 2555.3,701.0 2560.8,700.5 2566.3,699.9 2571.8,699.4 2577.2,698.9 2582.7,698.3 2588.2,697.8 2593.7,697.3 2599.2,696.8 2604.7,696.3 2610.2,695.8 2615.7,695.4 2621.1,694.9 2626.6,694.4 2632.1,694.0 2637.6,693.5 2643.1,693.1 2648.6,692.7 2654.1,692.2 2659.6,691.8 2665.0,691.4 2670.5,691.0 2676.0,690.6 2681.5,690.2 2687.0,689.8 2692.5,689.4 2698.0,689.0 2703.5,688.6 2708.9,688.3 2714.4,687.9 2719.9,687.5 2725.4,687.2 2730.9,686.8 2736.4,686.5 2741.9,686.1 2747.4,685.8 2752.8,685.5 2758.3,685.1 2763.8,684.8 2769.3,684.5 2774.8,684.1 2780.3,683.8 2785.8,683.5 2791.3,683.2 2796.7,682.9 2802.2,682.6 2807.7,682.3 2813.2,682.0 2818.7,681.7 2824.2,681.4 2829.7,681.1 2835.2,680.9 2840.6,680.6 2846.1,680.3 2851.6,680.0 2857.1,679.8 2862.6,679.5 2868.1,679.2 2873.6,679.0 2879.1,678.7 2883.6,678.5" fill="none" stroke="#000" stroke-width="1.5" stroke-dasharray="7.5 5.5"/>
<polyline points="2248.0,357.2 2253.5,361.2 2259.0,365.1 2264.5,368.8 2269.9,372.3 2275.4,375.6 2280.9,378.9 2286.4,381.9 2291.9,384.9 2297.4,387.7 2302.9,390.5 2308.4,393.1 2313.8,395.7 2319.3,398.1 2324.8,400.5 2330.3,402.8 2335.8,405.0 2341.3,407.1 2346.8,409.2 2352.3,411.2 2357.7,413.2 2363.2,415.1 2368.7,416.9 2374.2,418.7 2379.7,420.4 2385.2,422.1 2390.7,423.7 2396.2,425.3 2401.6,426.9 2407.1,428.4 2412.6,429.9 2418.1,431.3 2423.6,432.7 2429.1,434.1 2434.6,435.4 2440.1,436.7 2445.5,438.0 2451.0,439.3 2456.5,440.5 2462.0,441.7 2467.5,442.9 2473.0,444.0 2478.5,445.1 2484.0,446.2 2489.4,447.3 2494.9,448.3 2500.4,449.4 2505.9,450.4 2511.4,451.4 2516.9,452.3 2522.4,453.3 2527.9,454.2 2533.3,455.2 2538.8,456.1 2544.3,456.9 2549.8,457.8 2555.3,458.7 2560.8,459.5 2566.3,460.3 2571.8,461.2 2577.2,462.0 2582.7,462.7 2588.2,463.5 2593.7,464.3 2599.2,465.0 2604.7,465.8 2610.2,466.5 2615.7,467.2 2621.1,467.9 2626.6,468.6 2632.1,469.3 2637.6,469.9 2643.1,470.6 2648.6,471.2 2654.1,471.9 2659.6,472.5 2665.0,473.1 2670.5,473.8 2676.0,474.4 2681.5,475.0 2687.0,475.6 2692.5,476.1 2698.0,476.7 2703.5,477.3 2708.9,477.8 2714.4,478.4 2719.9,478.9 2725.4,479.5 2730.9,480.0 2736.4,480.5 2741.9,481.0 2747.4,481.5 2752.8,482.1 2758.3,482.6 2763.8,483.0 2769.3,483.5 2774.8,484.0 2780.3,484.5 2785.8,485.0 2791.3,485.4 2796.7,485.9 2802.2,486.3 2807.7,486.8 2813.2,487.2 2818.7,487.7 2824.2,488.1 2829.7,488.5 2835.2,488.9 2840.6,489.4 2846.1,489.8 2851.6,490.2 2857.1,490.6 2862.6,491.0 2868.1,491.4 2873.6,491.8 2879.1,492.2 2883.6,492.5" fill="none" stroke="#000" stroke-width="1.5" stroke-dasharray="7.5 5.5"/>
<polyline points="2248.0,851.0 2253.5,847.0 2259.0,843.1 2264.5,839.4 2269.9,835.9 2275.4,832.6 2280.9,829.3 2286.4,826.3 2291.9,823.3 2297.4,820.5 2302.9,817.7 2308.4,815.1 2313.8,812.5 2319.3,810.1 2324.8,807.7 2330.3,805.4 2335.8,803.2 2341.3,801.1 2346.8,799.0 2352.3,797.0 2357.7,795.0 2363.2,793.1 2368.7,791.3 2374.2,789.5 2379.7,787.8 2385.2,786.1 2390.7,784.5 2396.2,782.9 2401.6,781.3 2407.1,779.8 2412.6,778.3 2418.1,776.9 2423.6,775.5 2429.1,774.1 2434.6,772.8 2440.1,771.5 2445.5,770.2 2451.0,768.9 2456.5,767.7 2462.0,766.5 2467.5,765.3 2473.0,764.2 2478.5,763.1 2484.0,762.0 2489.4,760.9 2494.9,759.9 2500.4,758.8 2505.9,757.8 2511.4,756.8 2516.9,755.9 2522.4,754.9 2527.9,754.0 2533.3,753.0 2538.8,752.1 2544.3,751.3 2549.8,750.4 2555.3,749.5 2560.8,748.7 2566.3,747.9 2571.8,747.0 2577.2,746.2 2582.7,745.5 2588.2,744.7 2593.7,743.9 2599.2,743.2 2604.7,742.4 2610.2,741.7 2615.7,741.0 2621.1,740.3 2626.6,739.6 2632.1,738.9 2637.6,738.3 2643.1,737.6 2648.6,737.0 2654.1,736.3 2659.6,735.7 2665.0,735.1 2670.5,734.4 2676.0,733.8 2681.5,733.2 2687.0,732.6 2692.5,732.1 2698.0,731.5 2703.5,730.9 2708.9,730.4 2714.4,729.8 2719.9,729.3 2725.4,728.7 2730.9,728.2 2736.4,727.7 2741.9,727.2 2747.4,726.7 2752.8,726.1 2758.3,725.6 2763.8,725.2 2769.3,724.7 2774.8,724.2 2780.3,723.7 2785.8,723.2 2791.3,722.8 2796.7,722.3 2802.2,721.9 2807.7,721.4 2813.2,721.0 2818.7,720.5 2824.2,720.1 2829.7,719.7 2835.2,719.3 2840.6,718.8 2846.1,718.4 2851.6,718.0 2857.1,717.6 2862.6,717.2 2868.1,716.8 2873.6,716.4 2879.1,716.0 2883.6,715.7" fill="none" stroke="#000" stroke-width="1.5" stroke-dasharray="7.5 5.5"/>
<line x1="2248" y1="604.1" x2="2883.6" y2="604.1" stroke="#000" stroke-width="1.5" stroke-dasharray="7.5 5.5"/>
<circle cx="2248.1" cy="503.9" r="3.3" fill="#000"/>
<text x="2238.00" y="522.80" font-size="15.6" fill="#000" text-anchor="middle" >RJR</text>
<circle cx="2417.3" cy="565.2" r="3.3" fill="#000"/>
<text x="2433.70" y="558.50" font-size="15.6" fill="#000" text-anchor="middle" >RTF</text>
<circle cx="2484.5" cy="567.5" r="3.3" fill="#000"/>
<text x="2468.00" y="586.80" font-size="15.6" fill="#000" text-anchor="middle" >RK9</text>
<circle cx="2560.4" cy="544.2" r="3.3" fill="#000"/>
<text x="2543.50" y="563.00" font-size="15.6" fill="#000" text-anchor="middle" >RVJ</text>
<circle cx="2292.4" cy="650.2" r="3.3" fill="#000"/>
<text x="2309.30" y="642.60" font-size="15.6" fill="#000" text-anchor="middle" >RA9</text>
<circle cx="2306.6" cy="682.7" r="3.3" fill="#000"/>
<text x="2324.40" y="676.00" font-size="15.6" fill="#000" text-anchor="middle" >RXL</text>
<circle cx="2375.6" cy="695.0" r="3.3" fill="#000"/>
<text x="2359.20" y="713.90" font-size="15.6" fill="#000" text-anchor="middle" >RJL</text>
<circle cx="2883.6" cy="621.9" r="3.3" fill="#000"/>
<text x="2866.70" y="640.80" font-size="15.6" fill="#000" text-anchor="middle" >RYR</text>
<circle cx="2369.7" cy="614.6" r="3.3" fill="#ff0000"/>
<text x="2352.30" y="633.40" font-size="15.6" fill="#ff0000" text-anchor="middle" >RXC</text>
<line x1="2304.3" y1="875.8" x2="2304.3" y2="879.4" stroke="#333" stroke-width="1.3"/>
<text x="2304.30" y="893.20" font-size="12.7" fill="#4d4d4d" text-anchor="middle" >200,000</text>
<line x1="2522.9" y1="875.8" x2="2522.9" y2="879.4" stroke="#333" stroke-width="1.3"/>
<text x="2522.90" y="893.20" font-size="12.7" fill="#4d4d4d" text-anchor="middle" >400,000</text>
<line x1="2743.3" y1="875.8" x2="2743.3" y2="879.4" stroke="#333" stroke-width="1.3"/>
<text x="2743.30" y="893.20" font-size="12.7" fill="#4d4d4d" text-anchor="middle" >600,000</text>
<text x="2566.30" y="912.10" font-size="16.3" fill="#000" text-anchor="middle" >Catchment Population of Trust</text>
<line x1="3019" y1="465.1" x2="3232.8" y2="465.1" stroke="#9a9a9a" stroke-width="1.7" stroke-linecap="round" stroke-dasharray="0 6.35" />
<line x1="3019" y1="604.1" x2="3232.8" y2="604.1" stroke="#9a9a9a" stroke-width="1.7" stroke-linecap="round" stroke-dasharray="0 6.35" />
<line x1="3019" y1="743.5" x2="3232.8" y2="743.5" stroke="#9a9a9a" stroke-width="1.7" stroke-linecap="round" stroke-dasharray="0 6.35" />
<rect x="3019" y="614.7" width="217.5" height="13.8" fill="#fdf1cf" stroke="#f5c31c" stroke-width="1.3"/>
<rect x="3059.7" y="565" width="136.6" height="85" fill="none" stroke="#333" stroke-width="1.5"/>
<line x1="3059.7" y1="614.3" x2="3196.3" y2="614.3" stroke="#333" stroke-width="3"/>
<line x1="3128.2" y1="565" x2="3128.2" y2="503.7" stroke="#333" stroke-width="1.5"/>
<line x1="3128.2" y1="650" x2="3128.2" y2="694.7" stroke="#333" stroke-width="1.5"/>
<circle cx="3131.9" cy="503.7" r="3.3" fill="#000"/>
<circle cx="3077.5" cy="544" r="3.3" fill="#000"/>
<circle cx="3110.4" cy="567.2" r="3.3" fill="#000"/>
<circle cx="3181.2" cy="565" r="3.3" fill="#000"/>
<circle cx="3080.7" cy="621.6" r="3.3" fill="#000"/>
<circle cx="3152" cy="650" r="3.3" fill="#000"/>
<circle cx="3099.9" cy="682.4" r="3.3" fill="#000"/>
<circle cx="3127.8" cy="694.7" r="3.3" fill="#000"/>
<circle cx="3142.8" cy="614.3" r="3.3" fill="#ff0000"/>
<line x1="2408.5" y1="1578.9" x2="2412.5" y2="1578.9" stroke="#333" stroke-width="1.3"/>
<text x="2405.00" y="1583.50" font-size="12.9" fill="#4d4d4d" text-anchor="end" >00-04</text>
<line x1="2408.5" y1="1552.6" x2="2412.5" y2="1552.6" stroke="#333" stroke-width="1.3"/>
<text x="2405.00" y="1557.23" font-size="12.9" fill="#4d4d4d" text-anchor="end" >05-09</text>
<line x1="2408.5" y1="1526.4" x2="2412.5" y2="1526.4" stroke="#333" stroke-width="1.3"/>
<text x="2405.00" y="1530.96" font-size="12.9" fill="#4d4d4d" text-anchor="end" >10-14</text>
<line x1="2408.5" y1="1500.1" x2="2412.5" y2="1500.1" stroke="#333" stroke-width="1.3"/>
<text x="2405.00" y="1504.69" font-size="12.9" fill="#4d4d4d" text-anchor="end" >15-19</text>
<rect x="2959.8" y="1486.96" width="76.30" height="26.27" fill="#bfcde8" stroke="#5a7fc8" stroke-width="1.3"/>
<rect x="3036.1" y="1486.96" width="34.80" height="26.27" fill="#f6c3bf" stroke="#e8645a" stroke-width="1.3"/>
<line x1="2408.5" y1="1473.8" x2="2412.5" y2="1473.8" stroke="#333" stroke-width="1.3"/>
<text x="2405.00" y="1478.42" font-size="12.9" fill="#4d4d4d" text-anchor="end" >20-24</text>
<rect x="2930.9" y="1460.69" width="105.20" height="26.27" fill="#bfcde8" stroke="#5a7fc8" stroke-width="1.3"/>
<rect x="3036.1" y="1460.69" width="37.80" height="26.27" fill="#f6c3bf" stroke="#e8645a" stroke-width="1.3"/>
<line x1="2408.5" y1="1447.6" x2="2412.5" y2="1447.6" stroke="#333" stroke-width="1.3"/>
<text x="2405.00" y="1452.15" font-size="12.9" fill="#4d4d4d" text-anchor="end" >25-29</text>
<rect x="2826.9" y="1434.42" width="209.20" height="26.27" fill="#bfcde8" stroke="#5a7fc8" stroke-width="1.3"/>
<rect x="3036.1" y="1434.42" width="38.50" height="26.27" fill="#f6c3bf" stroke="#e8645a" stroke-width="1.3"/>
<line x1="2408.5" y1="1421.3" x2="2412.5" y2="1421.3" stroke="#333" stroke-width="1.3"/>
<text x="2405.00" y="1425.88" font-size="12.9" fill="#4d4d4d" text-anchor="end" >30-34</text>
<rect x="2816.9" y="1408.15" width="219.20" height="26.27" fill="#bfcde8" stroke="#5a7fc8" stroke-width="1.3"/>
<rect x="3036.1" y="1408.15" width="40.80" height="26.27" fill="#f6c3bf" stroke="#e8645a" stroke-width="1.3"/>
<line x1="2408.5" y1="1395.0" x2="2412.5" y2="1395.0" stroke="#333" stroke-width="1.3"/>
<text x="2405.00" y="1399.61" font-size="12.9" fill="#4d4d4d" text-anchor="end" >35-39</text>
<rect x="2733.9" y="1381.88" width="302.20" height="26.27" fill="#bfcde8" stroke="#5a7fc8" stroke-width="1.3"/>
<rect x="3036.1" y="1381.88" width="58.20" height="26.27" fill="#f6c3bf" stroke="#e8645a" stroke-width="1.3"/>
<line x1="2408.5" y1="1368.7" x2="2412.5" y2="1368.7" stroke="#333" stroke-width="1.3"/>
<text x="2405.00" y="1373.34" font-size="12.9" fill="#4d4d4d" text-anchor="end" >40-44</text>
<rect x="2768.0" y="1355.61" width="268.10" height="26.27" fill="#bfcde8" stroke="#5a7fc8" stroke-width="1.3"/>
<rect x="3036.1" y="1355.61" width="39.60" height="26.27" fill="#f6c3bf" stroke="#e8645a" stroke-width="1.3"/>
<line x1="2408.5" y1="1342.5" x2="2412.5" y2="1342.5" stroke="#333" stroke-width="1.3"/>
<text x="2405.00" y="1347.07" font-size="12.9" fill="#4d4d4d" text-anchor="end" >45-49</text>
<rect x="2679.4" y="1329.34" width="356.70" height="26.27" fill="#bfcde8" stroke="#5a7fc8" stroke-width="1.3"/>
<rect x="3036.1" y="1329.34" width="119.90" height="26.27" fill="#f6c3bf" stroke="#e8645a" stroke-width="1.3"/>
<line x1="2408.5" y1="1316.2" x2="2412.5" y2="1316.2" stroke="#333" stroke-width="1.3"/>
<text x="2405.00" y="1320.80" font-size="12.9" fill="#4d4d4d" text-anchor="end" >50-54</text>
<rect x="2590.9" y="1303.07" width="445.20" height="26.27" fill="#bfcde8" stroke="#5a7fc8" stroke-width="1.3"/>
<rect x="3036.1" y="1303.07" width="163.30" height="26.27" fill="#f6c3bf" stroke="#e8645a" stroke-width="1.3"/>
<line x1="2408.5" y1="1289.9" x2="2412.5" y2="1289.9" stroke="#333" stroke-width="1.3"/>
<text x="2405.00" y="1294.53" font-size="12.9" fill="#4d4d4d" text-anchor="end" >55-59</text>
<rect x="2483.5" y="1276.80" width="552.60" height="26.27" fill="#bfcde8" stroke="#5a7fc8" stroke-width="1.3"/>
<rect x="3036.1" y="1276.80" width="105.60" height="26.27" fill="#f6c3bf" stroke="#e8645a" stroke-width="1.3"/>
<line x1="2408.5" y1="1263.7" x2="2412.5" y2="1263.7" stroke="#333" stroke-width="1.3"/>
<text x="2405.00" y="1268.26" font-size="12.9" fill="#4d4d4d" text-anchor="end" >60-64</text>
<rect x="2449.8" y="1250.53" width="586.30" height="26.27" fill="#bfcde8" stroke="#5a7fc8" stroke-width="1.3"/>
<rect x="3036.1" y="1250.53" width="111.50" height="26.27" fill="#f6c3bf" stroke="#e8645a" stroke-width="1.3"/>
<line x1="2408.5" y1="1237.4" x2="2412.5" y2="1237.4" stroke="#333" stroke-width="1.3"/>
<text x="2405.00" y="1241.99" font-size="12.9" fill="#4d4d4d" text-anchor="end" >65-69</text>
<rect x="2609.0" y="1224.26" width="427.10" height="26.27" fill="#bfcde8" stroke="#5a7fc8" stroke-width="1.3"/>
<rect x="3036.1" y="1224.26" width="35.90" height="26.27" fill="#f6c3bf" stroke="#e8645a" stroke-width="1.3"/>
<line x1="2408.5" y1="1211.1" x2="2412.5" y2="1211.1" stroke="#333" stroke-width="1.3"/>
<text x="2405.00" y="1215.72" font-size="12.9" fill="#4d4d4d" text-anchor="end" >70-74</text>
<rect x="2530.2" y="1197.99" width="505.90" height="26.27" fill="#bfcde8" stroke="#5a7fc8" stroke-width="1.3"/>
<rect x="3036.1" y="1197.99" width="51.90" height="26.27" fill="#f6c3bf" stroke="#e8645a" stroke-width="1.3"/>
<line x1="2408.5" y1="1184.9" x2="2412.5" y2="1184.9" stroke="#333" stroke-width="1.3"/>
<text x="2405.00" y="1189.45" font-size="12.9" fill="#4d4d4d" text-anchor="end" >75-79</text>
<rect x="2815.4" y="1171.72" width="220.70" height="26.27" fill="#bfcde8" stroke="#5a7fc8" stroke-width="1.3"/>
<line x1="2408.5" y1="1158.6" x2="2412.5" y2="1158.6" stroke="#333" stroke-width="1.3"/>
<text x="2405.00" y="1163.18" font-size="12.9" fill="#4d4d4d" text-anchor="end" >80-84</text>
<rect x="2761.7" y="1145.45" width="274.40" height="26.27" fill="#bfcde8" stroke="#5a7fc8" stroke-width="1.3"/>
<line x1="2408.5" y1="1132.3" x2="2412.5" y2="1132.3" stroke="#333" stroke-width="1.3"/>
<text x="2405.00" y="1136.91" font-size="12.9" fill="#4d4d4d" text-anchor="end" >85-89</text>
<line x1="3036.1" y1="1119.18" x2="3036.1" y2="1145.44" stroke="#5a7fc8" stroke-width="1.3"/>
<line x1="2408.5" y1="1106.0" x2="2412.5" y2="1106.0" stroke="#333" stroke-width="1.3"/>
<text x="2405.00" y="1110.64" font-size="12.9" fill="#4d4d4d" text-anchor="end" >90+</text>
<line x1="2546.9" y1="1594" x2="2546.9" y2="1597.6" stroke="#333" stroke-width="1.3"/>
<text x="2546.90" y="1611.30" font-size="12.9" fill="#4d4d4d" text-anchor="middle" >40</text>
<line x1="2791.7" y1="1594" x2="2791.7" y2="1597.6" stroke="#333" stroke-width="1.3"/>
<text x="2791.70" y="1611.30" font-size="12.9" fill="#4d4d4d" text-anchor="middle" >20</text>
<line x1="3036.1" y1="1594" x2="3036.1" y2="1597.6" stroke="#333" stroke-width="1.3"/>
<text x="3036.10" y="1611.30" font-size="12.9" fill="#4d4d4d" text-anchor="middle" >0</text>
<rect x="2749.3" y="1640.9" width="23.3" height="23" fill="#f6c3bf" stroke="#e8645a" stroke-width="1.3"/>
<text x="2782.40" y="1658.20" font-size="12.9" fill="#000" text-anchor="start" >Females</text>
<rect x="2841.9" y="1640.9" width="23.3" height="23" fill="#bfcde8" stroke="#5a7fc8" stroke-width="1.3"/>
<text x="2875.00" y="1658.20" font-size="12.9" fill="#000" text-anchor="start" >Males</text>
<polygon points="3273.30,21.30 3270.64,17.48 3266.25,19.01 3266.34,14.35 3261.89,13.01 3264.70,9.30 3261.89,5.59 3266.34,4.25 3266.25,-0.41 3270.64,1.12 3273.30,-2.70 3275.96,1.12 3280.35,-0.41 3280.26,4.25 3284.71,5.59 3281.90,9.30 3284.71,13.01 3280.26,14.35 3280.35,19.01 3275.96,17.48" fill="#6b6b6b"/>
<circle cx="3273.3" cy="9.3" r="7.4" fill="#fff"/>
</svg>
</body></html>
